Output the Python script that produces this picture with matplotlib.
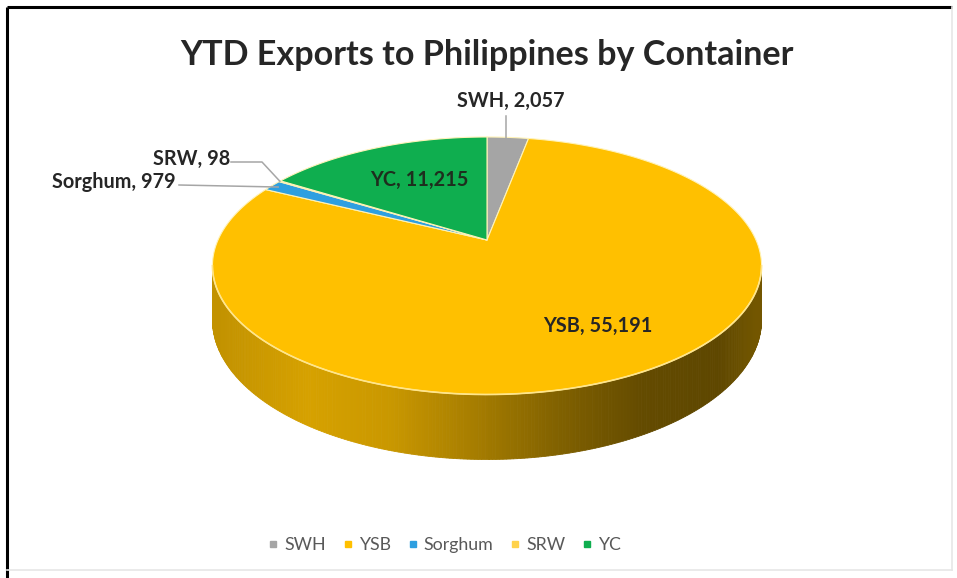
import numpy as np
import matplotlib
matplotlib.use("Agg")
import matplotlib.pyplot as plt
from matplotlib.patches import Polygon
from matplotlib.lines import Line2D

# ─── Data ──────────────────────────────────────────────────────────────────
categories = ["SWH", "YSB", "Sorghum", "SRW", "YC"]
values = [2057, 55191, 979, 98, 11215]
colors = ["#a5a5a5", "#ffc000", "#2e9fe0", "#ffd24a", "#0fae4f"]
title = "YTD Exports to Philippines by Container"

# ─── Figure in pixel coordinates ───────────────────────────────────────────
W, H = 957, 578
fig = plt.figure(figsize=(W / 100, H / 100), dpi=100)
ax = fig.add_axes([0, 0, 1, 1])
ax.set_xlim(0, W)
ax.set_ylim(H, 0)
ax.axis("off")

FONT = ["Lato", "DejaVu Sans"]

# perspective pie (Excel-like 3D look)
CX, CY = 487, 240
RX, RY = 269, 123.6
K = 0.2
DEPTH = 52


def proj(theta, r=1.0, drop=0.0):
    t = np.radians(theta)
    u, v = r * np.cos(t), r * np.sin(t)
    s = 1.0 / (1.0 + K * v)
    return CX + RX * u * s, CY - RY * v * s + drop * s


def fit_size(text, width_px, weight="bold", base=20):
    t = ax.text(0, 0, text, fontsize=base, weight=weight, family=FONT)
    w = t.get_window_extent(fig.canvas.get_renderer()).width
    t.remove()
    return base * width_px / w


total = float(sum(values))
bounds = 90 - 360 * np.concatenate([[0], np.cumsum(values)]) / total


def slice_at(theta):
    a = (90 - theta) % 360
    for i in range(len(values)):
        if (90 - bounds[i]) <= a < (90 - bounds[i + 1]):
            return i
    return len(values) - 1


# ── side band with shading ──
t_left = 180 + np.degrees(np.arcsin(K))
t_right = 360 - np.degrees(np.arcsin(K))
ts = np.linspace(t_left, t_right, 260)
shade_x = [0.0, 0.17, 0.32, 0.48, 0.64, 0.79, 0.93, 1.0]
shade_v = [0.76, 0.84, 0.79, 0.65, 0.50, 0.39, 0.37, 0.45]
for t0, t1 in zip(ts[:-1], ts[1:]):
    x0, y0 = proj(t0)
    x1, y1 = proj(t1)
    _, b0 = proj(t0, drop=DEPTH)
    _, b1 = proj(t1, drop=DEPTH)
    base = np.array(matplotlib.colors.to_rgb(colors[slice_at((t0 + t1) / 2)]))
    f = np.interp(((x0 + x1) / 2 - (CX - RX)) / (2 * RX), shade_x, shade_v)
    c = np.clip(base * f, 0, 1)
    ax.add_patch(Polygon([(x0, y0), (x1, y1), (x1, b1), (x0, b0)],
                         closed=True, facecolor=c, edgecolor=c, lw=0.6))

# ── top face wedges ──
for i, c in enumerate(colors):
    a0, a1 = bounds[i], bounds[i + 1]
    n = max(3, int(abs(a1 - a0) * 2) + 2)
    arc = [proj(a) for a in np.linspace(a0, a1, n)]
    ax.add_patch(Polygon([(CX, CY)] + arc, closed=True, facecolor=c,
                         edgecolor="#fff3b8", lw=0.8, joinstyle="round"))

# rim highlight on the front edge
rim = np.array([proj(a) for a in ts])
ax.plot(rim[:, 0], rim[:, 1], color="#ffe58a", lw=1.2)

# ── data labels ──
lab_fs = fit_size("Sorghum, 979", 123)
lab_color = "#262626"
mid = (bounds[:-1] + bounds[1:]) / 2
labels = [f"{c}, {v:,}" for c, v in zip(categories, values)]

# SWH above, with vertical leader
ax.text(511, 101, labels[0], fontsize=lab_fs, weight="bold", color=lab_color,
        ha="center", va="center", family=FONT)
lx, ly = proj(mid[0], r=0.88)
ax.plot([lx, lx], [116, ly], color="#a6a6a6", lw=1.1)

# YSB inside
ax.text(598, 326, labels[1], fontsize=lab_fs, weight="bold", color=lab_color,
        ha="center", va="center", family=FONT)

# Sorghum outside left
ax.text(52, 182, labels[2], fontsize=lab_fs, weight="bold", color=lab_color,
        ha="left", va="center", family=FONT)
px, py = proj(mid[2], r=0.97)
ax.plot([179, px], [185, py], color="#a6a6a6", lw=1.1)

# SRW outside left, elbow leader
ax.text(153, 159, labels[3], fontsize=lab_fs, weight="bold", color=lab_color,
        ha="left", va="center", family=FONT)
px, py = proj(mid[3], r=1.0)
ax.plot([231, 262, px], [162, 162, py], color="#a6a6a6", lw=1.1)

# YC inside
ax.text(419, 180, labels[4], fontsize=lab_fs, weight="bold", color="#1e2e1e",
        ha="center", va="center", family=FONT)

# ── title ──
ttl_fs = fit_size(title, 614)
ax.text(487, 55, title, fontsize=ttl_fs, weight="bold", color="#262626",
        ha="center", va="center", family=FONT)

# ── legend ──
leg_fs = fit_size("Sorghum", 70, weight="normal")
handles = [Line2D([], [], marker="s", ls="", color=c, markersize=4.5)
           for c in colors]
ax.legend(handles, categories, loc="center", bbox_to_anchor=(445 / W, 1 - 545 / H),
          ncol=5, frameon=False, handlelength=0.5, handletextpad=0.35,
          columnspacing=1.0, labelcolor="#595959",
          prop={"family": FONT, "size": leg_fs})

# ── chart border ──
ax.plot([7, 7], [H, 7], color="black", lw=2.2, solid_capstyle="butt")
ax.plot([7, 952], [7, 7], color="black", lw=2.2, solid_capstyle="butt")
ax.plot([952, 952], [7, 570], color="#e6e6e6", lw=1.2)
ax.plot([7, 952], [570, 570], color="#e6e6e6", lw=1.2)

fig.savefig("out.png", dpi=100)
